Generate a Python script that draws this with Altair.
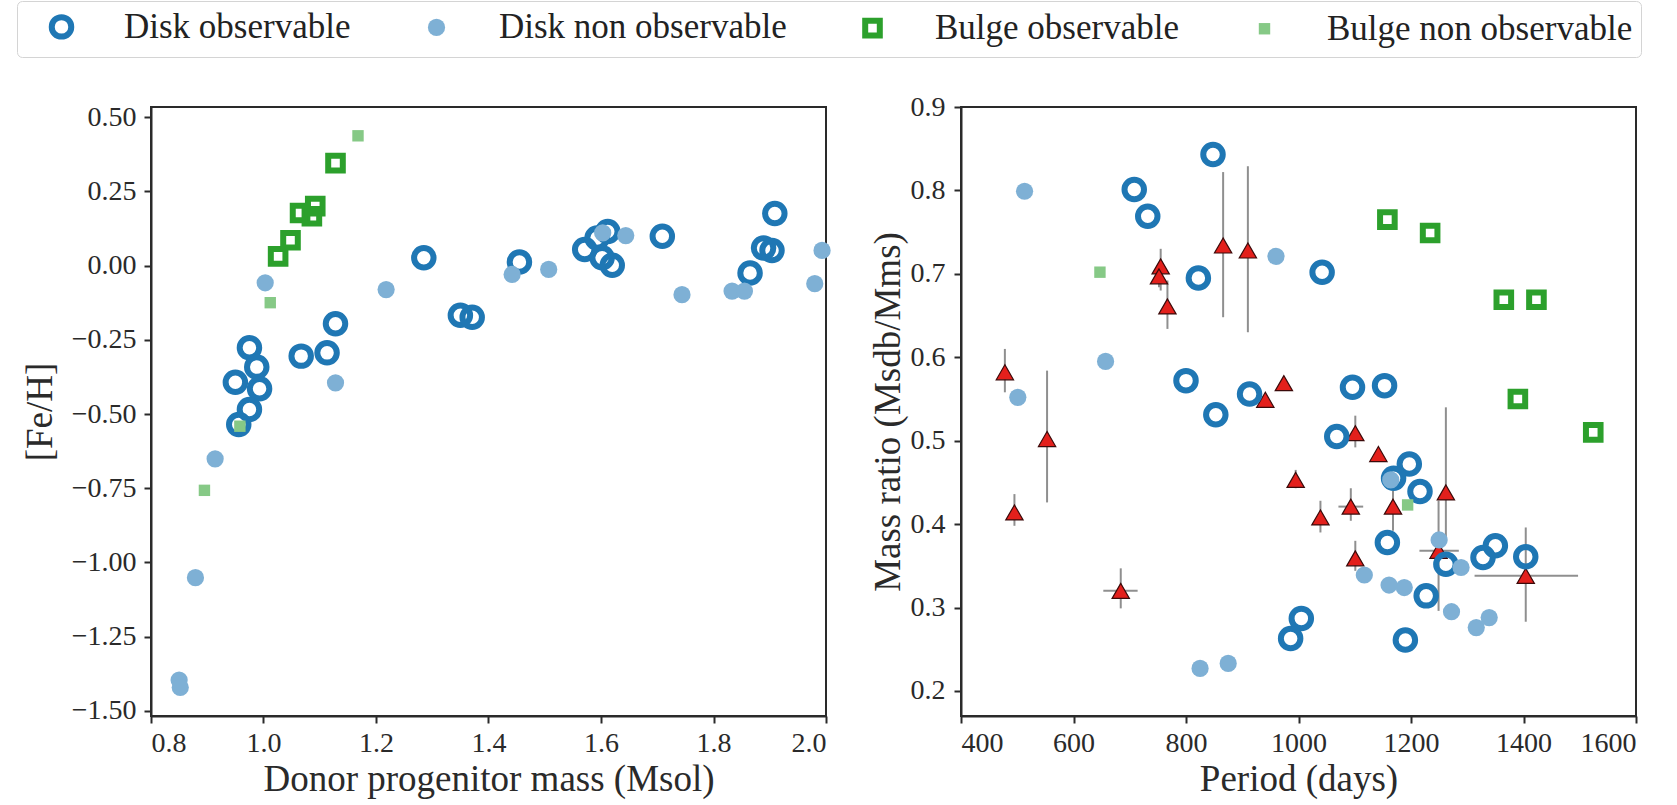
import altair as alt
import pandas as pd

FONT = "Liberation Serif, 'Times New Roman', Times, 'DejaVu Serif', serif"
BLUE = "#1f77b4"
LBLUE = "#7eb0d5"
GREEN = "#2ca02c"
LGREEN = "#86c986"
RED = "#e3201c"
TRI_EDGE = "#3b0a0a"
ERR = "#8f8f8f"
INK = "#2a2a2a"

SERIES = ["Disk observable", "Disk non observable", "Bulge observable", "Bulge non observable"]

# ---------------- left panel: donor progenitor mass vs [Fe/H] ----------------
L_DISK_OBS_M = [1.285, 1.128, 1.113, 1.067, 0.975, 0.988, 0.950, 0.993, 0.975, 0.956, 1.350, 1.371,
                1.455, 1.571, 1.593, 1.612, 1.602, 1.620, 1.709, 1.909, 1.889, 1.904, 1.865]
L_DISK_OBS_F = [0.026, -0.196, -0.294, -0.305, -0.277, -0.342, -0.393, -0.415, -0.485, -0.535, -0.167, -0.174,
                0.012, 0.054, 0.093, 0.115, 0.026, 0.001, 0.099, 0.175, 0.059, 0.051, -0.025]
L_DISK_NON_M = [1.003, 1.218, 1.128, 0.914, 0.879, 0.850, 0.852, 1.442, 1.507, 1.644, 1.744, 1.833,
                1.855, 1.980, 1.993, 1.603]
L_DISK_NON_F = [-0.058, -0.081, -0.395, -0.651, -1.051, -1.396, -1.421, -0.030, -0.013, 0.101, -0.098, -0.086,
                -0.086, -0.061, 0.051, 0.110]
L_BULGE_OBS_M = [1.026, 1.048, 1.065, 1.086, 1.092, 1.128]
L_BULGE_OBS_F = [0.031, 0.085, 0.177, 0.166, 0.200, 0.345]
L_BULGE_NON_M = [1.168, 1.012, 0.958, 0.895]
L_BULGE_NON_F = [0.437, -0.125, -0.541, -0.757]

# ---------------- right panel: period vs mass ratio ----------------
R_DISK_OBS_P = [848, 708, 732, 822, 800, 853, 913, 1042, 1096, 1153, 1068, 1197, 1169, 1216, 1158, 1262,
                1328, 1350, 1404, 1227, 1005, 986, 1190]
R_DISK_OBS_Q = [0.843, 0.801, 0.769, 0.695, 0.572, 0.531, 0.556, 0.702, 0.564, 0.566, 0.505, 0.472, 0.455,
                0.439, 0.378, 0.352, 0.360, 0.374, 0.361, 0.314, 0.287, 0.263, 0.261]
R_DISK_NON_P = [513, 501, 657, 960, 825, 875, 1117, 1161, 1188, 1250, 1289, 1272, 1316, 1339, 1164]
R_DISK_NON_Q = [0.799, 0.552, 0.595, 0.721, 0.227, 0.233, 0.339, 0.327, 0.324, 0.381, 0.348, 0.295, 0.276,
                0.288, 0.453]
R_BULGE_OBS_P = [1158, 1234, 1365, 1423, 1390, 1524]
R_BULGE_OBS_Q = [0.765, 0.749, 0.669, 0.669, 0.550, 0.510]
R_BULGE_NON_P = [647, 1194]
R_BULGE_NON_Q = [0.702, 0.423]

# red triangles with error bars (None = no bar)
TRI_P = [478, 495, 553, 684, 755, 752, 767, 866, 910, 941, 974, 995, 1039, 1093, 1101, 1101, 1142, 1168,
         1249, 1262, 1404]
TRI_Q = [0.582, 0.414, 0.502, 0.320, 0.709, 0.697, 0.661, 0.734, 0.728, 0.549, 0.569, 0.453, 0.408, 0.421,
         0.509, 0.359, 0.484, 0.421, 0.368, 0.438, 0.338]
TRI_QLO = [0.558, 0.398, 0.426, 0.299, 0.680, 0.684, 0.634, 0.648, 0.630, None, None, 0.443, 0.390, 0.404,
           0.492, 0.344, None, 0.392, 0.296, 0.378, 0.283]
TRI_QHI = [0.610, 0.436, 0.584, 0.347, 0.730, 0.712, 0.692, 0.822, 0.829, None, None, 0.465, 0.428, 0.443,
           0.530, 0.380, None, 0.440, 0.428, 0.540, 0.396]
TRI_PLO = [None, None, None, 653, None, None, None, None, None, None, None, None, None, 1071,
           None, None, None, None, 1215, None, 1313]
TRI_PHI = [None, None, None, 714, None, None, None, None, None, None, None, None, None, 1115,
           None, None, None, None, 1285, None, 1497]


def frame(xs, ys, name, xc, yc):
    return pd.DataFrame({xc: xs, yc: ys, "series": name})


left_df = pd.concat([
    frame(L_DISK_OBS_M, L_DISK_OBS_F, SERIES[0], "mass", "feh"),
    frame(L_BULGE_OBS_M, L_BULGE_OBS_F, SERIES[2], "mass", "feh"),
    frame(L_DISK_NON_M, L_DISK_NON_F, SERIES[1], "mass", "feh"),
    frame(L_BULGE_NON_M, L_BULGE_NON_F, SERIES[3], "mass", "feh"),
], ignore_index=True)

right_df = pd.concat([
    frame(R_DISK_OBS_P, R_DISK_OBS_Q, SERIES[0], "period", "ratio"),
    frame(R_BULGE_OBS_P, R_BULGE_OBS_Q, SERIES[2], "period", "ratio"),
    frame(R_DISK_NON_P, R_DISK_NON_Q, SERIES[1], "period", "ratio"),
    frame(R_BULGE_NON_P, R_BULGE_NON_Q, SERIES[3], "period", "ratio"),
], ignore_index=True)

tri_df = pd.DataFrame({"period": TRI_P, "ratio": TRI_Q, "qlo": TRI_QLO, "qhi": TRI_QHI,
                       "plo": TRI_PLO, "phi": TRI_PHI})
vbar_df = tri_df.dropna(subset=["qlo"])
hbar_df = tri_df.dropna(subset=["plo"])

LEGEND = alt.Legend(
    title=None, orient="none", legendX=-134, legendY=-106, direction="horizontal", columns=4,
    labelFont=FONT, labelFontSize=35, labelColor="#222222", labelLimit=1000,
    symbolStrokeWidth=6, symbolOpacity=1, symbolOffset=19, labelOffset=45, columnPadding=49,
    padding=8, strokeColor="#d4d4d4", fillColor="white", cornerRadius=5,
)


def series_enc():
    return dict(
        shape=alt.Shape("series:N", scale=alt.Scale(domain=SERIES, range=["circle", "circle", "square", "square"]),
                        legend=LEGEND),
        fill=alt.Fill("series:N", scale=alt.Scale(domain=SERIES, range=["transparent", LBLUE, "transparent", LGREEN]),
                      legend=LEGEND),
        stroke=alt.Stroke("series:N", scale=alt.Scale(domain=SERIES, range=[BLUE, "transparent", GREEN, "transparent"]),
                          legend=LEGEND),
        size=alt.Size("series:N", scale=alt.Scale(domain=SERIES, range=[380, 130, 256, 120]), legend=LEGEND),
    )


PW, PH = 675, 609

# left panel
lx = alt.X("mass:Q", scale=alt.Scale(domain=[0.8, 2.0], nice=False, zero=False),
           axis=alt.Axis(title="Donor progenitor mass (Msol)", values=[0.8, 1.0, 1.2, 1.4, 1.6, 1.8, 2.0],
                         format=".1f", labelPadding=6, titlePadding=4))
ly = alt.Y("feh:Q", scale=alt.Scale(domain=[-1.517, 0.534], nice=False, zero=False),
           axis=alt.Axis(title="[Fe/H]", values=[-1.5, -1.25, -1.0, -0.75, -0.5, -0.25, 0.0, 0.25, 0.5],
                         format=".2f", labelPadding=8, titlePadding=12))
left = alt.Chart(left_df).mark_point(opacity=1, strokeWidth=6).encode(
    x=lx, y=ly, **series_enc()
).properties(width=PW, height=PH)

# right panel
def rx(field="period"):
    return alt.X(f"{field}:Q", scale=alt.Scale(domain=[400, 1600], nice=False, zero=False),
                 axis=alt.Axis(title="Period (days)", values=[400, 600, 800, 1000, 1200, 1400, 1600],
                               format="d", labelPadding=6, titlePadding=4))


def ry(field="ratio"):
    return alt.Y(f"{field}:Q", scale=alt.Scale(domain=[0.17, 0.9], nice=False, zero=False),
                 axis=alt.Axis(title="Mass ratio (Msdb/Mms)", values=[0.2, 0.3, 0.4, 0.5, 0.6, 0.7, 0.8, 0.9],
                               format=".1f", labelPadding=9, titlePadding=3))


vbars = alt.Chart(vbar_df).mark_rule(color=ERR, strokeWidth=2).encode(
    x=rx(), y=ry("qlo"), y2="qhi:Q")
hbars = alt.Chart(hbar_df).mark_rule(color=ERR, strokeWidth=2).encode(
    x=rx("plo"), x2="phi:Q", y=ry())
tris = alt.Chart(tri_df).mark_point(shape="triangle-up", filled=True, size=300, fill=RED, stroke=TRI_EDGE,
                                    strokeWidth=1.2, opacity=1).encode(x=rx(), y=ry())
rpts = alt.Chart(right_df).mark_point(opacity=1, strokeWidth=6).encode(x=rx(), y=ry(), **series_enc())
right = alt.layer(vbars, hbars, tris, rpts).properties(width=PW, height=PH)

chart = alt.hconcat(left, right, spacing=135, bounds="flush").resolve_scale(
    shape="shared", fill="shared", stroke="shared", size="shared"
).resolve_legend(
    shape="shared", fill="shared", stroke="shared", size="shared"
).properties(
    padding={"left": 16, "top": 0, "right": 20, "bottom": 4},
    background="white",
).configure(font=FONT).configure_axis(
    labelFont=FONT, labelFontSize=28, labelColor=INK, titleFont=FONT, titleFontSize=37,
    titleFontWeight="normal", titleColor=INK, domainColor=INK, domainWidth=2, tickColor=INK,
    tickWidth=2, tickSize=7, grid=False,
).configure_view(stroke=INK, strokeWidth=2)

chart.save("out.html", embed_options={"renderer": "svg", "actions": False})
